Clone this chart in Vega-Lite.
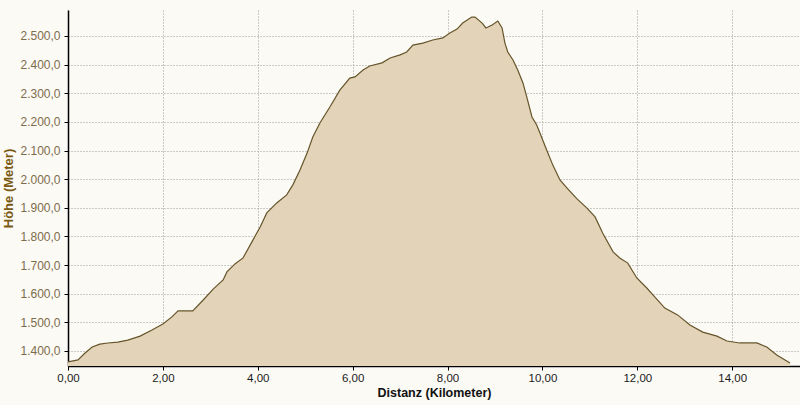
{
  "$schema": "https://vega.github.io/schema/vega-lite/v6.json",
  "width": 732,
  "height": 356,
  "autosize": {"type": "none"},
  "padding": {"left": 68, "top": 10, "right": 0, "bottom": 39},
  "background": "#fcfaf5",
  "config": {
    "view": {"stroke": null},
    "locale": {"number": {"decimal": ",", "thousands": ".", "grouping": [3], "currency": ["", " €"]}},
    "axis": {
      "zindex": 1,
      "domainColor": "#000000",
      "domainWidth": 1.5,
      "tickColor": "#000000",
      "tickSize": 4,
      "gridColor": "#9a9a9a",
      "gridDash": [1, 2],
      "gridWidth": 1,
      "labelFont": "Liberation Sans",
      "labelFontSize": 12,
      "titleFont": "Liberation Sans",
      "titleFontSize": 13,
      "titleFontWeight": "bold"
    }
  },
  "data": {
    "values": [
      {"km": 0.00, "m": 1362}, {"km": 0.21, "m": 1369}, {"km": 0.36, "m": 1393}, {"km": 0.51, "m": 1414},
      {"km": 0.67, "m": 1424}, {"km": 0.84, "m": 1428}, {"km": 1.05, "m": 1431}, {"km": 1.26, "m": 1438},
      {"km": 1.52, "m": 1452}, {"km": 1.77, "m": 1473}, {"km": 2.00, "m": 1494}, {"km": 2.19, "m": 1519},
      {"km": 2.32, "m": 1540}, {"km": 2.63, "m": 1540}, {"km": 2.85, "m": 1578}, {"km": 3.06, "m": 1616},
      {"km": 3.27, "m": 1648}, {"km": 3.35, "m": 1676}, {"km": 3.52, "m": 1704}, {"km": 3.69, "m": 1725},
      {"km": 3.90, "m": 1788}, {"km": 4.05, "m": 1833}, {"km": 4.19, "m": 1882}, {"km": 4.40, "m": 1917},
      {"km": 4.61, "m": 1945}, {"km": 4.74, "m": 1980}, {"km": 4.89, "m": 2032}, {"km": 5.04, "m": 2091},
      {"km": 5.16, "m": 2147}, {"km": 5.31, "m": 2196}, {"km": 5.52, "m": 2252}, {"km": 5.73, "m": 2311},
      {"km": 5.94, "m": 2353}, {"km": 6.05, "m": 2357}, {"km": 6.22, "m": 2381}, {"km": 6.36, "m": 2395},
      {"km": 6.62, "m": 2406}, {"km": 6.79, "m": 2423}, {"km": 7.00, "m": 2434}, {"km": 7.14, "m": 2444},
      {"km": 7.27, "m": 2468}, {"km": 7.48, "m": 2475}, {"km": 7.69, "m": 2486}, {"km": 7.90, "m": 2493},
      {"km": 8.05, "m": 2510}, {"km": 8.20, "m": 2524}, {"km": 8.32, "m": 2545}, {"km": 8.51, "m": 2566},
      {"km": 8.58, "m": 2566}, {"km": 8.73, "m": 2545}, {"km": 8.81, "m": 2528}, {"km": 8.94, "m": 2538},
      {"km": 9.06, "m": 2552}, {"km": 9.15, "m": 2528}, {"km": 9.21, "m": 2475}, {"km": 9.27, "m": 2444},
      {"km": 9.38, "m": 2416}, {"km": 9.48, "m": 2381}, {"km": 9.59, "m": 2336}, {"km": 9.67, "m": 2287},
      {"km": 9.78, "m": 2217}, {"km": 9.88, "m": 2189}, {"km": 9.99, "m": 2144}, {"km": 10.09, "m": 2102},
      {"km": 10.22, "m": 2049}, {"km": 10.37, "m": 1997}, {"km": 10.52, "m": 1969}, {"km": 10.73, "m": 1931},
      {"km": 10.94, "m": 1899}, {"km": 11.11, "m": 1868}, {"km": 11.27, "m": 1812}, {"km": 11.49, "m": 1746},
      {"km": 11.63, "m": 1725}, {"km": 11.80, "m": 1707}, {"km": 11.99, "m": 1655}, {"km": 12.20, "m": 1620},
      {"km": 12.33, "m": 1596}, {"km": 12.58, "m": 1550}, {"km": 12.85, "m": 1526}, {"km": 13.11, "m": 1491},
      {"km": 13.38, "m": 1466}, {"km": 13.68, "m": 1452}, {"km": 13.89, "m": 1435}, {"km": 14.16, "m": 1428},
      {"km": 14.52, "m": 1428}, {"km": 14.73, "m": 1414}, {"km": 14.94, "m": 1386}, {"km": 15.22, "m": 1358}
    ]
  },
  "mark": {
    "type": "area",
    "clip": true,
    "color": "#e2d3b9",
    "opacity": 1,
    "line": {"color": "#66552a", "strokeWidth": 1.2}
  },
  "encoding": {
    "x": {
      "field": "km",
      "type": "quantitative",
      "scale": {"domain": [0, 15.43], "nice": false, "zero": false},
      "axis": {
        "title": "Distanz (Kilometer)",
        "titleColor": "#111111",
        "titlePadding": 3,
        "titleFontSize": 12.5,
        "values": [0, 2, 4, 6, 8, 10, 12, 14],
        "format": ".2f",
        "labelColor": "#1a1a1a",
        "labelFontSize": 11.5,
        "labelPadding": 2,
        "labelFlush": false
      }
    },
    "y": {
      "field": "m",
      "type": "quantitative",
      "scale": {"domain": [1347.6, 2590.6], "nice": false, "zero": false},
      "axis": {
        "title": "Höhe (Meter)",
        "titleColor": "#7a5a12",
        "titlePadding": 4,
        "values": [1400, 1500, 1600, 1700, 1800, 1900, 2000, 2100, 2200, 2300, 2400, 2500],
        "format": ",.1f",
        "labelColor": "#7d6c4c",
        "labelPadding": 4
      }
    }
  }
}
